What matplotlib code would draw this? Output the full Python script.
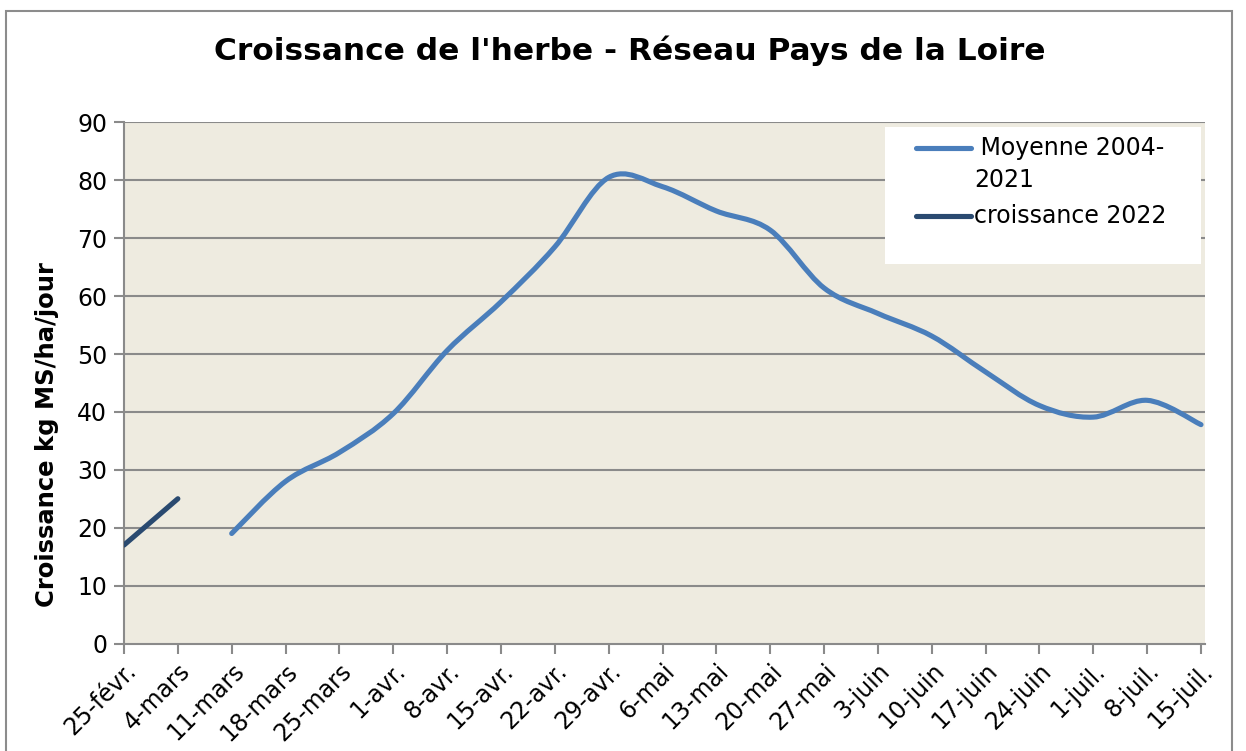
import matplotlib
matplotlib.use("Agg")
import matplotlib.pyplot as plt
from matplotlib.path import Path
from matplotlib.patches import PathPatch, Rectangle
from matplotlib.lines import Line2D
import numpy as np

# ---------------- data ----------------
categories = ["25-févr.", "4-mars", "11-mars", "18-mars", "25-mars", "1-avr.", "8-avr.",
              "15-avr.", "22-avr.", "29-avr.", "6-mai", "13-mai", "20-mai", "27-mai",
              "3-juin", "10-juin", "17-juin", "24-juin", "1-juil.", "8-juil.", "15-juil."]
moyenne_start = 2  # index of first category with a value (11-mars)
moyenne_values = [19, 28, 33, 39.7, 50.6, 59, 68.5, 80.5, 78.9, 74.7, 71.4,
                  61.4, 57, 53.1, 46.9, 41.1, 39.1, 42, 37.8]
croissance_2022 = [17, 25]
yticks = [0, 10, 20, 30, 40, 50, 60, 70, 80, 90]

label_moy_1 = " Moyenne 2004-"
label_moy_2 = "2021"
label_2022 = "croissance 2022"
title = "Croissance de l'herbe - Réseau Pays de la Loire"
ylabel = "Croissance kg MS/ha/jour"

# ---------------- style ----------------
C_MOY = "#4A7EBB"
C_2022 = "#2A4A70"
C_BG = "#EEEBE0"
C_GRID = "#8A8A8A"
FS = 17

W, H = 1246, 751
fig = plt.figure(figsize=(W / 100, H / 100), dpi=100)

# figure border
fig.patches.append(Rectangle((6 / W, -0.05), (1232 - 6) / W, 1.05 - 11 / H,
                             transform=fig.transFigure, fill=False,
                             edgecolor="#8C8C8C", linewidth=1.5))

ax_l, ax_r, ax_t, ax_b = 124, 1205, 122.4, 643.5
ax = fig.add_axes([ax_l / W, 1 - ax_b / H, (ax_r - ax_l) / W, (ax_b - ax_t) / H])
ax.set_facecolor(C_BG)

n = len(categories)
step_px = (1201 - 124) / (n - 1)
ax.set_xlim(0, (n - 1) + (ax_r - 1201) / step_px)
ax.set_ylim(0, 90)

for y in yticks[1:]:
    ax.axhline(y, color=C_GRID, linewidth=1.5, zorder=1)

for s in ["top", "right"]:
    ax.spines[s].set_visible(False)
for s in ["left", "bottom"]:
    ax.spines[s].set_color(C_GRID)
    ax.spines[s].set_linewidth(1.5)

ax.set_yticks(yticks)
ax.set_yticklabels([str(v) for v in yticks], fontsize=FS)
ax.set_xticks(range(n))
ax.set_xticklabels(categories, fontsize=FS, rotation=45, ha="right",
                   rotation_mode="anchor")
ax.tick_params(axis="both", color=C_GRID, width=1.5, length=7, labelcolor="black")
ax.tick_params(axis="y", pad=5)
ax.tick_params(axis="x", pad=4)


def smooth_path(xs, ys):
    pts = np.column_stack([xs, ys]).astype(float)
    m = len(pts)
    verts = [pts[0]]
    codes = [Path.MOVETO]
    for i in range(m - 1):
        p0 = pts[i - 1] if i > 0 else pts[i]
        p1 = pts[i]
        p2 = pts[i + 1]
        p3 = pts[i + 2] if i + 2 < m else pts[i + 1]
        c1 = p1 + (p2 - p0) / 6.0
        c2 = p2 - (p3 - p1) / 6.0
        verts += [c1, c2, p2]
        codes += [Path.CURVE4] * 3
    return Path(verts, codes)


LW = 3.7
xs_moy = list(range(moyenne_start, moyenne_start + len(moyenne_values)))
ax.add_patch(PathPatch(smooth_path(xs_moy, moyenne_values), fill=False,
                       edgecolor=C_MOY, linewidth=LW, capstyle="round",
                       joinstyle="round", zorder=3))
xs_22 = list(range(len(croissance_2022)))
ax.add_patch(PathPatch(smooth_path(xs_22, croissance_2022), fill=False,
                       edgecolor=C_2022, linewidth=LW, capstyle="round",
                       joinstyle="round", zorder=3))

# legend (manual, Excel-like box)
def axx(px):
    return (px - ax_l) / (ax_r - ax_l)


def axy(py):
    return (ax_b - py) / (ax_b - ax_t)


ax.add_patch(Rectangle((axx(885), axy(264)), axx(1201) - axx(885), axy(127) - axy(264),
                       transform=ax.transAxes, facecolor="white", edgecolor="none",
                       zorder=4))
for py, col in [(148, C_MOY), (216, C_2022)]:
    ax.add_line(Line2D([axx(916), axx(971)], [axy(py), axy(py)], transform=ax.transAxes,
                       color=col, linewidth=LW, solid_capstyle="round", zorder=5))
ax.text(axx(973), axy(148), label_moy_1, transform=ax.transAxes, fontsize=FS,
        va="center", ha="left", zorder=6)
ax.text(axx(974), axy(180), label_moy_2, transform=ax.transAxes, fontsize=FS,
        va="center", ha="left", zorder=6)
ax.text(axx(974), axy(216), label_2022, transform=ax.transAxes, fontsize=FS,
        va="center", ha="left", zorder=6)

fig.text(630 / W, 1 - 51 / H, title, fontsize=22.5, fontweight="bold",
         ha="center", va="center")
fig.text(47 / W, 1 - 435 / H, ylabel, fontsize=17.5, fontweight="bold",
         rotation=90, ha="center", va="center")

fig.savefig("out.png", dpi=100)
